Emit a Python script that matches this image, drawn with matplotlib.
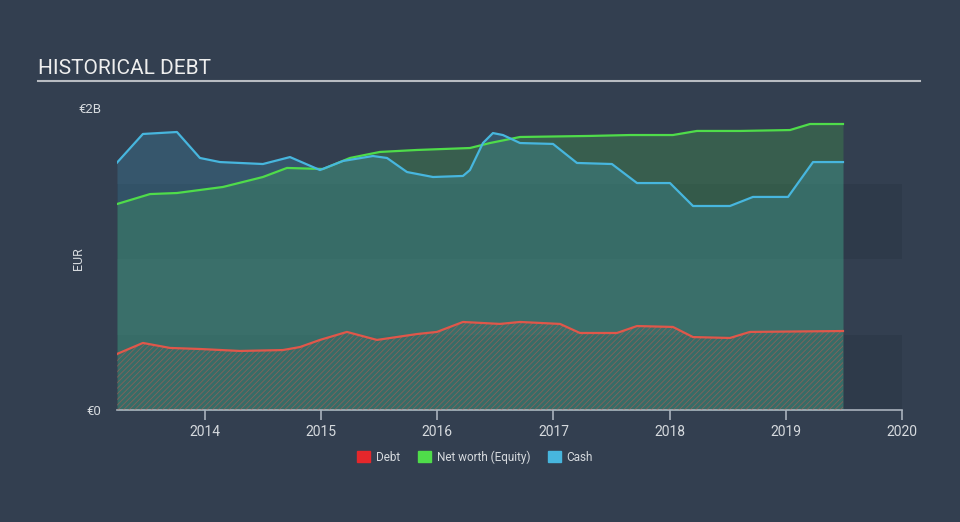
import matplotlib.pyplot as plt
from matplotlib.patches import Patch
from matplotlib.lines import Line2D

plt.rcParams['font.family'] = ['Roboto', 'DejaVu Sans']
plt.rcParams['hatch.linewidth'] = 0.6

# years (decimal) and values in EUR billions
cash_t = [2013.243, 2013.466, 2013.759, 2013.957, 2014.129, 2014.499, 2014.732, 2014.990,
          2015.188, 2015.446, 2015.567, 2015.739, 2015.963, 2016.221, 2016.281, 2016.393,
          2016.479, 2016.565, 2016.712, 2016.996, 2017.202, 2017.503, 2017.719, 2018.003,
          2018.201, 2018.519, 2018.717, 2019.019, 2019.234, 2019.492]
cash_v = [1.638, 1.828, 1.841, 1.669, 1.642, 1.629, 1.675, 1.589,
          1.649, 1.682, 1.669, 1.576, 1.543, 1.550, 1.589, 1.768,
          1.834, 1.821, 1.768, 1.762, 1.636, 1.629, 1.503, 1.503,
          1.351, 1.351, 1.411, 1.411, 1.642, 1.642]

equity_t = [2013.243, 2013.527, 2013.759, 2014.155, 2014.499, 2014.706, 2015.016, 2015.248,
            2015.506, 2015.825, 2016.281, 2016.453, 2016.712, 2017.314, 2017.658, 2018.028,
            2018.235, 2018.605, 2019.036, 2019.208, 2019.492]
equity_v = [1.364, 1.430, 1.437, 1.477, 1.543, 1.603, 1.596, 1.669,
            1.709, 1.722, 1.735, 1.768, 1.808, 1.815, 1.821, 1.821,
            1.848, 1.848, 1.854, 1.894, 1.894]

debt_t = [2013.243, 2013.466, 2013.699, 2013.957, 2014.301, 2014.671, 2014.818, 2014.990,
          2015.222, 2015.481, 2015.825, 2015.997, 2016.221, 2016.539, 2016.712, 2017.056,
          2017.228, 2017.546, 2017.719, 2018.028, 2018.201, 2018.519, 2018.691, 2019.492]
debt_v = [0.371, 0.444, 0.411, 0.404, 0.391, 0.397, 0.417, 0.464,
          0.517, 0.464, 0.503, 0.517, 0.583, 0.570, 0.583, 0.570,
          0.510, 0.510, 0.556, 0.550, 0.483, 0.477, 0.517, 0.523]

years = [2014, 2015, 2016, 2017, 2018, 2019, 2020]

bg = '#333f50'
band = '#2e3a4a'
c_debt = '#e0574a'
c_equity = '#4fdc4a'
c_cash = '#47b6de'

fig = plt.figure(figsize=(9.6, 5.22), dpi=100, facecolor=bg)
ax = fig.add_axes([117/960, 1-410/522, (902-117)/960, (410-108)/522])
ax.set_facecolor(bg)

for lo, hi in [(0, 0.5), (1.0, 1.5)]:
    ax.axhspan(lo, hi, color=band, lw=0, zorder=0)

ax.fill_between(equity_t, 0, equity_v, color=c_equity, alpha=0.2, lw=0, zorder=1)
ax.fill_between(cash_t, 0, cash_v, color=c_cash, alpha=0.2, lw=0, zorder=2)
ax.fill_between(debt_t, 0, debt_v, facecolor='none', edgecolor=c_debt, alpha=0.45,
                hatch='//////', lw=0, zorder=3)
ax.plot(equity_t, equity_v, color=c_equity, lw=1.6, zorder=4)
ax.plot(cash_t, cash_v, color=c_cash, lw=1.6, zorder=5)
ax.plot(debt_t, debt_v, color=c_debt, lw=1.6, zorder=6)

ax.set_xlim(cash_t[0], 2020)
ax.set_ylim(0, 2)
ax.set_xticks(years)
ax.set_xticklabels([str(y) for y in years])
ax.set_yticks([0, 2])
ax.set_yticklabels(['€0', '€2B'])
for s in ['top', 'right', 'left']:
    ax.spines[s].set_visible(False)
ax.spines['bottom'].set_color('#a9b2bd')
ax.spines['bottom'].set_linewidth(1.2)
ax.tick_params(axis='x', colors='#a9b2bd', labelcolor='#d6dade', labelsize=10,
               length=7, width=1.2, pad=4)
ax.tick_params(axis='y', length=0, labelcolor='#d6dade', labelsize=9.5, pad=11)
ax.set_ylabel('EUR', color='#d6dade', fontsize=9)
ax.yaxis.set_label_coords(-0.041, 0.5)

fig.text(38/960, 1-68/522, 'HISTORICAL DEBT', color='#eeeeee', fontsize=15,
         va='center', ha='left')
fig.add_artist(Line2D([38/960, 920/960], [1-81/522, 1-81/522], color='#b8bcc2',
                      lw=1.5, transform=fig.transFigure))

handles = [Patch(color='#e5272b', label='Debt'),
           Patch(color='#4fdc4a', label='Net worth (Equity)'),
           Patch(color='#47b6de', label='Cash')]
fig.legend(handles=handles, loc='center', bbox_to_anchor=(475/960, 1-457/522), ncol=3,
           frameon=False, fontsize=8.5, labelcolor='#d6dade', handlelength=1.1,
           handleheight=1.1, handletextpad=0.5, columnspacing=1.5)

fig.savefig('out.png', dpi=100, facecolor=bg)
